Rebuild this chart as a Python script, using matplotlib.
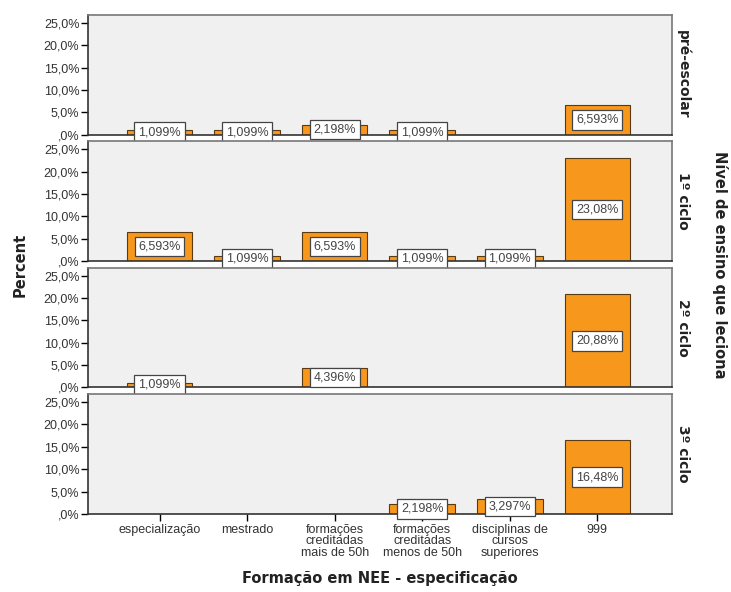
import numpy as np
import matplotlib.pyplot as plt

plt.rcParams['font.family'] = ['Liberation Sans', 'DejaVu Sans']

# categories on the x axis
categories = ['especialização', 'mestrado', 'formações\ncreditadas\nmais de 50h',
              'formações\ncreditadas\nmenos de 50h', 'disciplinas de\ncursos\nsuperiores', '999']

# panel rows (Nível de ensino que leciona)
levels = ['pré-escolar', '1º ciclo', '2º ciclo', '3º ciclo']

# percent values per panel (0 = no bar)
pre_escolar = [1.099, 1.099, 2.198, 1.099, 0, 6.593]
ciclo_1 = [6.593, 1.099, 6.593, 1.099, 1.099, 23.08]
ciclo_2 = [1.099, 0, 4.396, 0, 0, 20.88]
ciclo_3 = [0, 0, 0, 2.198, 3.297, 16.48]

panel_values = [pre_escolar, ciclo_1, ciclo_2, ciclo_3]

yticks = [0, 5, 10, 15, 20, 25]
ytick_labels = [',0%', '5,0%', '10,0%', '15,0%', '20,0%', '25,0%']

bar_color = '#F7981D'
edge_color = '#5a3a10'

fig, axes = plt.subplots(4, 1, figsize=(7.31, 5.92), dpi=100, sharex=True)
fig.subplots_adjust(left=0.120, right=0.919, top=0.975, bottom=0.132, hspace=0.055)

x = np.arange(len(categories))

for ax, level, vals in zip(axes, levels, panel_values):
    ax.set_facecolor('#F0F0F0')
    vals = np.array(vals, dtype=float)
    mask = vals > 0
    ax.bar(x[mask], vals[mask], width=0.75, color=bar_color,
           edgecolor=edge_color, linewidth=0.8, zorder=2)
    for xi, v in zip(x[mask], vals[mask]):
        label = f'{v:.4g}'.replace('.', ',') + '%'
        ax.text(xi, v / 2, label, ha='center', va='center', fontsize=9,
                color='#444444', zorder=3,
                bbox=dict(boxstyle='square,pad=0.3', facecolor='white',
                          edgecolor='#444444', linewidth=0.9))
    ax.set_ylim(0, 26.8)
    ax.set_xlim(-0.82, 5.85)
    ax.set_yticks(yticks)
    ax.set_yticklabels(ytick_labels, fontsize=9, color='#333333')
    ax.tick_params(axis='y', direction='out', length=5, width=1, pad=1)
    ax.tick_params(axis='x', length=0)
    for side in ['top', 'right']:
        ax.spines[side].set_color('#777777')
        ax.spines[side].set_linewidth(1.2)
    for side in ['left', 'bottom']:
        ax.spines[side].set_color('#333333')
        ax.spines[side].set_linewidth(1.2)
    ax.text(1.02, 0.5, level, transform=ax.transAxes, rotation=-90,
            ha='center', va='center', fontsize=10, fontweight='bold',
            family='DejaVu Sans', color='#222222')

axes[-1].set_xticks(x)
axes[-1].set_xticklabels(categories, fontsize=9, color='#333333', linespacing=0.95)
axes[-1].tick_params(axis='x', direction='out', length=5, width=1, pad=2)

fig.text(0.028, 0.553, 'Percent', rotation=90, ha='center', va='center',
         fontsize=10.5, fontweight='bold', family='DejaVu Sans', color='#222222')
fig.text(0.985, 0.553, 'Nível de ensino que leciona', rotation=-90, ha='center',
         va='center', fontsize=10.5, fontweight='bold', family='DejaVu Sans',
         color='#222222')
fig.text(0.52, 0.022, 'Formação em NEE - especificação', ha='center', va='center',
         fontsize=10.5, fontweight='bold', family='DejaVu Sans', color='#222222')

plt.savefig('out.png', dpi=100, facecolor='white')
